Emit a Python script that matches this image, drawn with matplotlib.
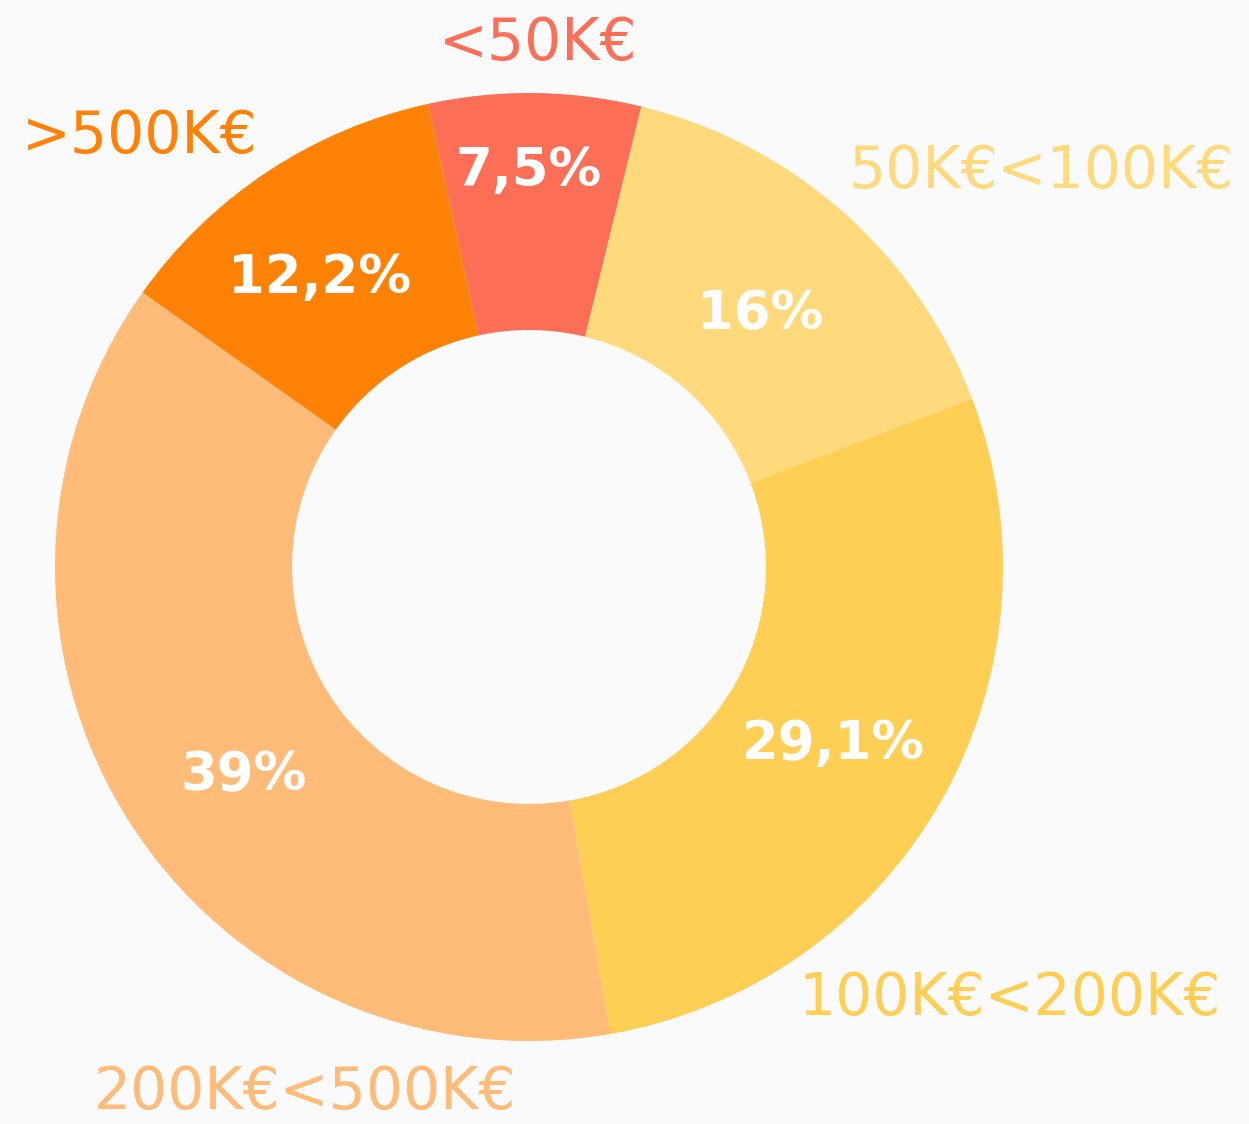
import matplotlib
matplotlib.use("Agg")
import matplotlib.pyplot as plt
import numpy as np

categories = ["<50K€", "50K€<100K€", "100K€<200K€", "200K€<500K€", ">500K€"]
values = [7.5, 16, 29.1, 39, 12.2]
pct_labels = ["7,5%", "16%", "29,1%", "39%", "12,2%"]
colors = ["#FC6E56", "#FFD97C", "#FFCE55", "#FFBB77", "#FF8105"]

# text positions (data units, radius = 1)
pct_pos = [(0.0, 0.846), (0.487, 0.546), (0.643, -0.361), (-0.603, -0.428), (-0.441, 0.622)]
cat_pos = [(0.019, 1.118), (1.080, 0.846), (1.015, -0.897), (-0.473, -1.095), (-0.821, 0.920)]

W, H = 1249, 1124
cx, cy, R = 529, 567, 474
fig = plt.figure(figsize=(W / 100, H / 100), dpi=100, facecolor="#FAFAFA")
ax = fig.add_axes([0, 0, 1, 1])
ax.set_facecolor("#FAFAFA")

ax.pie(values, colors=colors, startangle=102.3, counterclock=False,
       radius=1.0, wedgeprops=dict(width=0.5, linewidth=0))

for (x, y), t in zip(pct_pos, pct_labels):
    ax.text(x, y, t, ha="center", va="center_baseline", color="white",
            fontsize=38, fontweight="bold", family="DejaVu Sans")
for (x, y), t, c in zip(cat_pos, categories, colors):
    ax.text(x, y, t, ha="center", va="center_baseline", color=c,
            fontsize=42, family="DejaVu Sans")

ax.set_aspect("auto")
ax.set_xlim(-cx / R, (W - cx) / R)
ax.set_ylim((cy - H) / R, cy / R)
ax.axis("off")

fig.savefig("out.png", dpi=100, facecolor="#FAFAFA")
